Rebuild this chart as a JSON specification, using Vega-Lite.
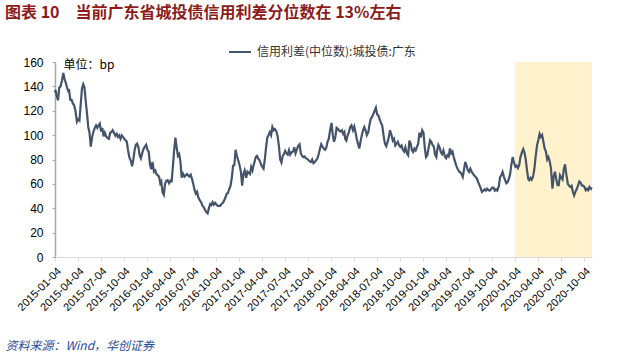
{
"$schema":"https://vega.github.io/schema/vega-lite/v6.json",
"width":537,"height":195,
"autosize":{"type":"none"},
"padding":{"left":55,"top":62,"right":33,"bottom":98},
"background":"white",
"config":{"view":{"stroke":null},"font":"Liberation Sans","axis":{"labelOverlap":false,"labelSeparation":0,"labelBound":false,"grid":false}},
"title":{"text":"图表 10\u3000当前广东省城投债信用利差分位数在 13%左右","anchor":"start","frame":"group","dx":-50,"offset":19,"font":"Noto Sans CJK SC","fontSize":16,"fontWeight":"bold","color":"#8E1B1B"},
"layer":[
{"data":{"values":[{"start":"2020-01-04","end":"2020-11-05","lo":0,"hi":160}],"format":{"parse":{"start":"date:'%Y-%m-%d'","end":"date:'%Y-%m-%d'"}}},
"mark":{"type":"rect","color":"#FFF2CC"},
"encoding":{
"x":{"field":"start","type":"temporal",
"scale":{"domain":[{"year":2015,"month":1,"date":4},{"year":2020,"month":11,"date":5}]},
"axis":{"tickCount":40,"values":[{"year":2015,"month":1,"date":4},{"year":2015,"month":4,"date":4},{"year":2015,"month":7,"date":4},{"year":2015,"month":10,"date":4},{"year":2016,"month":1,"date":4},{"year":2016,"month":4,"date":4},{"year":2016,"month":7,"date":4},{"year":2016,"month":10,"date":4},{"year":2017,"month":1,"date":4},{"year":2017,"month":4,"date":4},{"year":2017,"month":7,"date":4},{"year":2017,"month":10,"date":4},{"year":2018,"month":1,"date":4},{"year":2018,"month":4,"date":4},{"year":2018,"month":7,"date":4},{"year":2018,"month":10,"date":4},{"year":2019,"month":1,"date":4},{"year":2019,"month":4,"date":4},{"year":2019,"month":7,"date":4},{"year":2019,"month":10,"date":4},{"year":2020,"month":1,"date":4},{"year":2020,"month":4,"date":4},{"year":2020,"month":7,"date":4},{"year":2020,"month":10,"date":4}],
"format":"%Y-%m-%d","labelAngle":-45,"labelFontSize":11,"labelColor":"#000","labelFlush":false,"labelOverlap":false,"labelPadding":4,
"domainColor":"#D9D9D9","tickColor":"#D9D9D9","tickSize":4,"grid":false,
"title":"资料来源：Wind，华创证券","titleX":-50,"titleY":88,"titleAlign":"left","titleBaseline":"middle","titleFont":"Noto Sans CJK SC","titleFontStyle":"italic","titleFontWeight":"normal","titleFontSize":12,"titleColor":"#1F4E9A"}},
"x2":{"field":"end"},
"y":{"field":"lo","type":"quantitative","scale":{"domain":[0,160]},
"axis":{"tickCount":20,"values":[0,20,40,60,80,100,120,140,160],"labelOverlap":false,"labelFontSize":12,"labelColor":"#000","labelPadding":9,"domainColor":"#A6A6A6","domainWidth":1.5,"tickColor":"#A6A6A6","tickSize":3,"grid":false,
"title":"单位：bp","titleAngle":0,"titleX":8,"titleY":2,"titleAlign":"left","titleBaseline":"middle","titleFont":"Noto Sans CJK SC","titleFontWeight":"normal","titleFontSize":12,"titleColor":"#000"}},
"y2":{"field":"hi"}}},
{"data":{"format":{"parse":{"d":"date:'%Y-%m-%d'"}},"values":[
{"d":"2015-01-04","v":135},{"d":"2015-01-06","v":137},{"d":"2015-01-11","v":132},{"d":"2015-01-16","v":128.6},{"d":"2015-01-21","v":139},{"d":"2015-01-26","v":140},
{"d":"2015-02-01","v":145},{"d":"2015-02-06","v":151},{"d":"2015-02-11","v":146},{"d":"2015-02-16","v":142.8},{"d":"2015-02-21","v":139},{"d":"2015-02-26","v":136},
{"d":"2015-03-01","v":136.5},{"d":"2015-03-06","v":129},{"d":"2015-03-11","v":129},{"d":"2015-03-16","v":126},{"d":"2015-03-21","v":124.5},{"d":"2015-03-26","v":120},
{"d":"2015-04-01","v":111},{"d":"2015-04-06","v":113},{"d":"2015-04-11","v":112},{"d":"2015-04-16","v":125},{"d":"2015-04-21","v":138},{"d":"2015-04-26","v":141.7},
{"d":"2015-05-01","v":139},{"d":"2015-05-06","v":128},{"d":"2015-05-11","v":118},{"d":"2015-05-16","v":106.7},{"d":"2015-05-21","v":102},{"d":"2015-05-26","v":90.5},
{"d":"2015-06-01","v":99},{"d":"2015-06-06","v":103},{"d":"2015-06-11","v":106},{"d":"2015-06-16","v":108},{"d":"2015-06-21","v":106},{"d":"2015-06-26","v":108},
{"d":"2015-07-01","v":109.5},{"d":"2015-07-06","v":103},{"d":"2015-07-11","v":106},{"d":"2015-07-16","v":99},{"d":"2015-07-21","v":102},{"d":"2015-07-26","v":99},
{"d":"2015-08-01","v":97.5},{"d":"2015-08-06","v":97},{"d":"2015-08-11","v":102},{"d":"2015-08-16","v":102.5},{"d":"2015-08-21","v":104},{"d":"2015-08-26","v":102},
{"d":"2015-09-01","v":99.5},{"d":"2015-09-06","v":101},{"d":"2015-09-11","v":98.5},{"d":"2015-09-16","v":99.8},{"d":"2015-09-21","v":97},{"d":"2015-09-26","v":99.8},
{"d":"2015-10-01","v":98.5},{"d":"2015-10-06","v":97},{"d":"2015-10-11","v":95.8},{"d":"2015-10-16","v":94.5},{"d":"2015-10-21","v":87.6},{"d":"2015-10-26","v":82},
{"d":"2015-11-01","v":79},{"d":"2015-11-06","v":74.5},{"d":"2015-11-11","v":80},{"d":"2015-11-16","v":87.6},{"d":"2015-11-21","v":92},{"d":"2015-11-26","v":93},
{"d":"2015-12-01","v":90.5},{"d":"2015-12-06","v":83.5},{"d":"2015-12-11","v":81},{"d":"2015-12-16","v":85},{"d":"2015-12-21","v":88.5},{"d":"2015-12-26","v":90.3},
{"d":"2016-01-01","v":92},{"d":"2016-01-06","v":88},{"d":"2016-01-11","v":86.5},{"d":"2016-01-16","v":76},{"d":"2016-01-21","v":72},{"d":"2016-01-26","v":78},
{"d":"2016-02-01","v":70},{"d":"2016-02-06","v":71},{"d":"2016-02-11","v":68},{"d":"2016-02-16","v":67},{"d":"2016-02-21","v":66},{"d":"2016-02-26","v":60.5},
{"d":"2016-03-01","v":62},{"d":"2016-03-06","v":53},{"d":"2016-03-11","v":51},{"d":"2016-03-16","v":60},{"d":"2016-03-21","v":62.5},{"d":"2016-03-26","v":63},
{"d":"2016-04-01","v":60.5},{"d":"2016-04-06","v":62.5},{"d":"2016-04-11","v":62},{"d":"2016-04-16","v":74},{"d":"2016-04-21","v":87.6},{"d":"2016-04-26","v":98},
{"d":"2016-05-01","v":90},{"d":"2016-05-06","v":83},{"d":"2016-05-11","v":84.5},{"d":"2016-05-16","v":78},{"d":"2016-05-21","v":65},{"d":"2016-05-26","v":68.4},
{"d":"2016-06-01","v":66},{"d":"2016-06-06","v":67},{"d":"2016-06-11","v":68},{"d":"2016-06-16","v":67},{"d":"2016-06-21","v":66},{"d":"2016-06-26","v":67.5},
{"d":"2016-07-01","v":64},{"d":"2016-07-06","v":60},{"d":"2016-07-11","v":55},{"d":"2016-07-16","v":52},{"d":"2016-07-21","v":53.4},{"d":"2016-07-26","v":49},
{"d":"2016-08-01","v":46.5},{"d":"2016-08-06","v":45},{"d":"2016-08-11","v":42.3},{"d":"2016-08-16","v":41},{"d":"2016-08-21","v":39},{"d":"2016-08-26","v":37},
{"d":"2016-09-01","v":35.8},{"d":"2016-09-06","v":40},{"d":"2016-09-11","v":43.5},{"d":"2016-09-16","v":42.5},{"d":"2016-09-21","v":45},{"d":"2016-09-26","v":43},
{"d":"2016-10-01","v":44.4},{"d":"2016-10-06","v":43},{"d":"2016-10-11","v":42},{"d":"2016-10-16","v":42},{"d":"2016-10-21","v":41.9},{"d":"2016-10-26","v":43.5},
{"d":"2016-11-01","v":44.5},{"d":"2016-11-06","v":46.5},{"d":"2016-11-11","v":49},{"d":"2016-11-16","v":52},{"d":"2016-11-21","v":52.5},{"d":"2016-11-26","v":56},
{"d":"2016-12-01","v":58.5},{"d":"2016-12-06","v":65},{"d":"2016-12-11","v":75},{"d":"2016-12-16","v":75.3},{"d":"2016-12-21","v":88},{"d":"2016-12-26","v":83},
{"d":"2017-01-01","v":79},{"d":"2017-01-06","v":75},{"d":"2017-01-11","v":70},{"d":"2017-01-16","v":58.5},{"d":"2017-01-21","v":68},{"d":"2017-01-26","v":71},
{"d":"2017-02-01","v":65},{"d":"2017-02-06","v":70},{"d":"2017-02-11","v":69},{"d":"2017-02-16","v":68},{"d":"2017-02-21","v":73.9},{"d":"2017-02-26","v":71},
{"d":"2017-03-01","v":74},{"d":"2017-03-06","v":78},{"d":"2017-03-11","v":82},{"d":"2017-03-16","v":83},{"d":"2017-03-21","v":80.7},{"d":"2017-03-26","v":79.4},
{"d":"2017-04-01","v":76},{"d":"2017-04-06","v":74},{"d":"2017-04-11","v":72.5},{"d":"2017-04-16","v":80},{"d":"2017-04-21","v":90},{"d":"2017-04-26","v":98},
{"d":"2017-05-01","v":100},{"d":"2017-05-06","v":102.5},{"d":"2017-05-11","v":100},{"d":"2017-05-16","v":106.7},{"d":"2017-05-21","v":104},{"d":"2017-05-26","v":105},
{"d":"2017-06-01","v":103},{"d":"2017-06-06","v":99},{"d":"2017-06-11","v":91},{"d":"2017-06-16","v":80},{"d":"2017-06-21","v":77.5},{"d":"2017-06-26","v":83},
{"d":"2017-07-01","v":84.5},{"d":"2017-07-06","v":87},{"d":"2017-07-11","v":85},{"d":"2017-07-16","v":84},{"d":"2017-07-21","v":87.6},{"d":"2017-07-26","v":84},
{"d":"2017-08-01","v":86},{"d":"2017-08-06","v":86.5},{"d":"2017-08-11","v":90},{"d":"2017-08-16","v":85},{"d":"2017-08-21","v":88},{"d":"2017-08-26","v":91},
{"d":"2017-09-01","v":92.5},{"d":"2017-09-06","v":85},{"d":"2017-09-11","v":83},{"d":"2017-09-16","v":82},{"d":"2017-09-21","v":82.5},{"d":"2017-09-26","v":81},
{"d":"2017-10-01","v":80.7},{"d":"2017-10-06","v":79.5},{"d":"2017-10-11","v":78.5},{"d":"2017-10-16","v":78},{"d":"2017-10-21","v":80},{"d":"2017-10-26","v":77},
{"d":"2017-11-01","v":78},{"d":"2017-11-06","v":79.4},{"d":"2017-11-11","v":81},{"d":"2017-11-16","v":84.5},{"d":"2017-11-21","v":89},{"d":"2017-11-26","v":92.5},
{"d":"2017-12-01","v":90.5},{"d":"2017-12-06","v":89},{"d":"2017-12-11","v":88},{"d":"2017-12-16","v":89.5},{"d":"2017-12-21","v":94.5},{"d":"2017-12-26","v":97},
{"d":"2018-01-01","v":105},{"d":"2018-01-06","v":110},{"d":"2018-01-11","v":100},{"d":"2018-01-16","v":94.5},{"d":"2018-01-21","v":98.5},{"d":"2018-01-26","v":106},
{"d":"2018-02-01","v":105},{"d":"2018-02-06","v":103.5},{"d":"2018-02-11","v":103},{"d":"2018-02-16","v":104},{"d":"2018-02-21","v":101},{"d":"2018-02-26","v":102.5},
{"d":"2018-03-01","v":97},{"d":"2018-03-06","v":95.5},{"d":"2018-03-11","v":100},{"d":"2018-03-16","v":102.5},{"d":"2018-03-21","v":106.7},{"d":"2018-03-26","v":108},
{"d":"2018-04-01","v":104},{"d":"2018-04-06","v":107},{"d":"2018-04-11","v":102.5},{"d":"2018-04-16","v":97},{"d":"2018-04-21","v":93},{"d":"2018-04-26","v":89},
{"d":"2018-05-01","v":94.5},{"d":"2018-05-06","v":100},{"d":"2018-05-11","v":104},{"d":"2018-05-16","v":106.7},{"d":"2018-05-21","v":104},{"d":"2018-05-26","v":100},
{"d":"2018-06-01","v":102.5},{"d":"2018-06-06","v":109},{"d":"2018-06-11","v":113.6},{"d":"2018-06-16","v":115},{"d":"2018-06-21","v":117.5},{"d":"2018-06-26","v":120},
{"d":"2018-07-01","v":122.5},{"d":"2018-07-06","v":117},{"d":"2018-07-11","v":116},{"d":"2018-07-16","v":113},{"d":"2018-07-21","v":110},{"d":"2018-07-26","v":108},
{"d":"2018-08-01","v":99},{"d":"2018-08-06","v":93},{"d":"2018-08-11","v":91},{"d":"2018-08-16","v":94},{"d":"2018-08-21","v":98},{"d":"2018-08-26","v":104},
{"d":"2018-09-01","v":100},{"d":"2018-09-06","v":95.5},{"d":"2018-09-11","v":97},{"d":"2018-09-16","v":91.5},{"d":"2018-09-21","v":93},{"d":"2018-09-26","v":94.5},
{"d":"2018-10-01","v":91.7},{"d":"2018-10-06","v":90.3},{"d":"2018-10-11","v":91.5},{"d":"2018-10-16","v":88},{"d":"2018-10-21","v":86.5},{"d":"2018-10-26","v":90},
{"d":"2018-11-01","v":85},{"d":"2018-11-06","v":83.5},{"d":"2018-11-11","v":95.5},{"d":"2018-11-16","v":93},{"d":"2018-11-21","v":87.6},{"d":"2018-11-26","v":86.2},
{"d":"2018-12-01","v":89},{"d":"2018-12-06","v":87.5},{"d":"2018-12-11","v":90.3},{"d":"2018-12-16","v":93},{"d":"2018-12-21","v":102},{"d":"2018-12-26","v":98},
{"d":"2019-01-01","v":104},{"d":"2019-01-06","v":102},{"d":"2019-01-11","v":90},{"d":"2019-01-16","v":82},{"d":"2019-01-21","v":83.5},{"d":"2019-01-26","v":89},
{"d":"2019-02-01","v":95.8},{"d":"2019-02-06","v":94.5},{"d":"2019-02-11","v":92},{"d":"2019-02-16","v":90.5},{"d":"2019-02-21","v":84},{"d":"2019-02-26","v":82},
{"d":"2019-03-01","v":87},{"d":"2019-03-06","v":92},{"d":"2019-03-11","v":90},{"d":"2019-03-16","v":86},{"d":"2019-03-21","v":84.5},{"d":"2019-03-26","v":87.5},
{"d":"2019-04-01","v":82.5},{"d":"2019-04-06","v":81},{"d":"2019-04-11","v":83.5},{"d":"2019-04-16","v":82.5},{"d":"2019-04-21","v":89},{"d":"2019-04-26","v":85},
{"d":"2019-05-01","v":86.5},{"d":"2019-05-06","v":82},{"d":"2019-05-11","v":78.5},{"d":"2019-05-16","v":75},{"d":"2019-05-21","v":72.5},{"d":"2019-05-26","v":70.5},
{"d":"2019-06-01","v":69.5},{"d":"2019-06-06","v":68},{"d":"2019-06-11","v":65.7},{"d":"2019-06-16","v":72},{"d":"2019-06-21","v":78},{"d":"2019-06-26","v":75},
{"d":"2019-07-01","v":71},{"d":"2019-07-06","v":69.8},{"d":"2019-07-11","v":72.5},{"d":"2019-07-16","v":70},{"d":"2019-07-21","v":68.4},{"d":"2019-07-26","v":67},
{"d":"2019-08-01","v":65.7},{"d":"2019-08-06","v":64.4},{"d":"2019-08-11","v":61.6},{"d":"2019-08-16","v":59},{"d":"2019-08-21","v":56.5},{"d":"2019-08-26","v":53.5},
{"d":"2019-09-01","v":54.5},{"d":"2019-09-06","v":55.5},{"d":"2019-09-11","v":54.5},{"d":"2019-09-16","v":56},{"d":"2019-09-21","v":55},{"d":"2019-09-26","v":54.5},
{"d":"2019-10-01","v":55.5},{"d":"2019-10-06","v":57},{"d":"2019-10-11","v":57},{"d":"2019-10-16","v":54.5},{"d":"2019-10-21","v":55.5},{"d":"2019-10-26","v":54.5},
{"d":"2019-11-01","v":58},{"d":"2019-11-06","v":65.5},{"d":"2019-11-11","v":67},{"d":"2019-11-16","v":69.8},{"d":"2019-11-21","v":66},{"d":"2019-11-26","v":63},
{"d":"2019-12-01","v":60.5},{"d":"2019-12-06","v":61.5},{"d":"2019-12-11","v":64},{"d":"2019-12-16","v":68},{"d":"2019-12-21","v":76},{"d":"2019-12-26","v":82},
{"d":"2020-01-01","v":77},{"d":"2020-01-06","v":74},{"d":"2020-01-11","v":75},{"d":"2020-01-16","v":73},{"d":"2020-01-21","v":75.5},{"d":"2020-01-26","v":82},
{"d":"2020-02-01","v":86},{"d":"2020-02-06","v":88.5},{"d":"2020-02-11","v":85.5},{"d":"2020-02-16","v":80},{"d":"2020-02-21","v":71},{"d":"2020-02-26","v":64},
{"d":"2020-03-01","v":63},{"d":"2020-03-06","v":65},{"d":"2020-03-11","v":63.5},{"d":"2020-03-16","v":66},{"d":"2020-03-21","v":72},{"d":"2020-03-26","v":82},
{"d":"2020-04-01","v":92},{"d":"2020-04-06","v":96},{"d":"2020-04-11","v":101},{"d":"2020-04-16","v":98.5},{"d":"2020-04-21","v":100},{"d":"2020-04-26","v":94.5},
{"d":"2020-05-01","v":89},{"d":"2020-05-06","v":86.5},{"d":"2020-05-11","v":80},{"d":"2020-05-16","v":82},{"d":"2020-05-21","v":78.5},{"d":"2020-05-26","v":73},
{"d":"2020-06-01","v":56},{"d":"2020-06-06","v":66},{"d":"2020-06-11","v":70},{"d":"2020-06-16","v":64},{"d":"2020-06-21","v":59},{"d":"2020-06-26","v":59},
{"d":"2020-07-01","v":67},{"d":"2020-07-06","v":65},{"d":"2020-07-11","v":63.5},{"d":"2020-07-16","v":72},{"d":"2020-07-21","v":76},{"d":"2020-07-26","v":68},
{"d":"2020-08-01","v":60},{"d":"2020-08-06","v":58.5},{"d":"2020-08-11","v":57.5},{"d":"2020-08-16","v":58.5},{"d":"2020-08-21","v":53.5},{"d":"2020-08-26","v":50.5},
{"d":"2020-09-01","v":54},{"d":"2020-09-06","v":56},{"d":"2020-09-11","v":59},{"d":"2020-09-16","v":62},{"d":"2020-09-21","v":61},{"d":"2020-09-26","v":58.5},
{"d":"2020-10-01","v":58.5},{"d":"2020-10-06","v":57.5},{"d":"2020-10-11","v":54.8},{"d":"2020-10-16","v":56},{"d":"2020-10-21","v":54.8},{"d":"2020-10-26","v":57.5},
{"d":"2020-11-01","v":56},{"d":"2020-11-04","v":57}
]},
"mark":{"type":"line","strokeWidth":2.2},
"encoding":{
"x":{"field":"d","type":"temporal"},
"y":{"field":"v","type":"quantitative"},
"color":{"datum":"信用利差(中位数):城投债:广东","type":"nominal","scale":{"range":["#44546A"]},
"legend":{"orient":"none","legendX":173,"legendY":-22,"title":null,"symbolType":"stroke","symbolSize":484,"symbolStrokeWidth":2,"labelFont":"Noto Sans CJK SC","labelFontSize":12,"labelColor":"#333","labelOffset":5,"padding":0}}
}}
]
}
